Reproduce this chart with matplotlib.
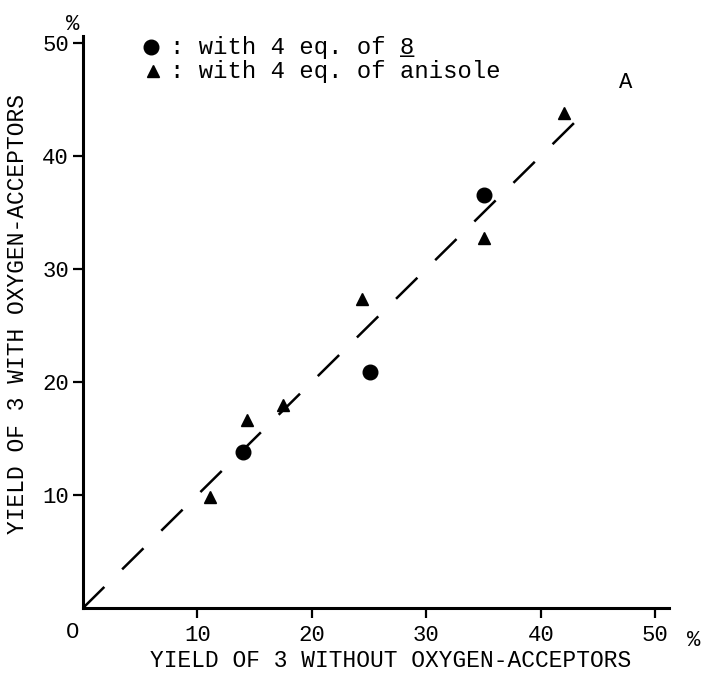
import matplotlib
matplotlib.use("Agg")
import matplotlib.pyplot as plt

# yields (%)
circle_x = [14.0, 25.1, 35.0]
circle_y = [13.8, 20.9, 36.5]
tri_x = [11.1, 14.3, 17.5, 24.4, 35.0, 42.0]
tri_y = [9.8, 16.6, 18.0, 27.3, 32.7, 43.8]
line_x = [0, 44]
line_y = [0, 44]
ticks = [10, 20, 30, 40, 50]

plt.rcParams['font.family'] = ['Liberation Mono', 'DejaVu Sans Mono']

fig = plt.figure(figsize=(7.06, 6.74), dpi=100)
ax = fig.add_axes([83 / 706, 66 / 674, 586 / 706, 572 / 674])
ax.set_xlim(0, 51.2)
ax.set_ylim(0, 50.6)

for s in ['top', 'right']:
    ax.spines[s].set_visible(False)
for s in ['left', 'bottom']:
    ax.spines[s].set_linewidth(2.2)

ax.plot(line_x, line_y, color='black', lw=1.8, dashes=(12, 10))
ax.plot(circle_x, circle_y, 'o', color='black', ms=10.5, clip_on=False)
ax.plot(tri_x, tri_y, '^', color='black', ms=9, clip_on=False)

ax.set_xticks(ticks)
ax.set_yticks(ticks)
ax.set_xticklabels([str(t) for t in ticks])
ax.set_yticklabels([str(t) for t in ticks])
ax.tick_params(axis='both', direction='out', length=7, width=1.6, labelsize=16)
ax.tick_params(axis='x', pad=5)
ax.tick_params(axis='y', pad=3)

ax.text(-0.9, -2.2, 'O', ha='center', va='center', fontsize=16)
ax.text(53.4, -2.9, '%', ha='center', va='center', fontsize=16, clip_on=False)
ax.text(-0.9, 51.6, '%', ha='center', va='center', fontsize=16, clip_on=False)
ax.text(47.4, 46.5, 'A', ha='center', va='center', fontsize=16)

ax.set_xlabel('YIELD OF 3 WITHOUT OXYGEN-ACCEPTORS', fontsize=16.5, labelpad=0)
ax.set_ylabel('YIELD OF 3 WITH OXYGEN-ACCEPTORS', fontsize=16.5, labelpad=0)
ax.xaxis.set_label_coords(26.9 / 51.2, -0.072)
ax.yaxis.set_label_coords(-0.092, 26 / 50.6)

# legend drawn by hand, like the original
ax.plot([5.9], [49.6], 'o', color='black', ms=10.5, clip_on=False)
ax.plot([6.1], [47.5], '^', color='black', ms=9, clip_on=False)
ax.text(7.6, 49.6, ': with 4 eq. of 8', va='center', fontsize=17.2)
ax.text(7.6, 49.6, '                _', va='center', fontsize=17.2)
ax.text(7.6, 47.5, ': with 4 eq. of anisole', va='center', fontsize=17.2)

fig.savefig('out.png', dpi=100)
